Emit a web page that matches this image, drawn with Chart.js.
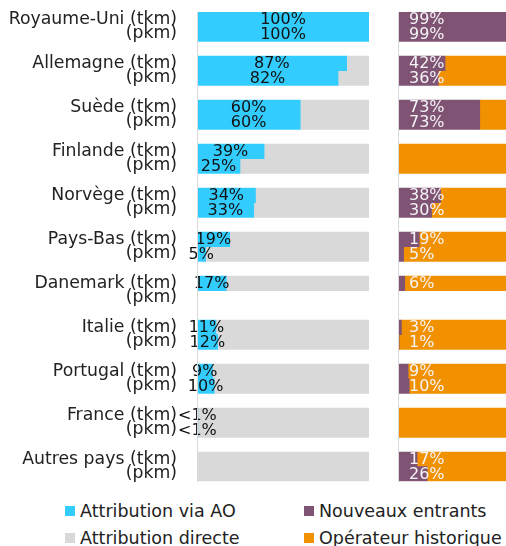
<!DOCTYPE html>
<html>
<head>
<meta charset="utf-8">
<script src="https://cdn.jsdelivr.net/npm/chart.js@4/dist/chart.umd.min.js"></script>
<style>
  body { margin: 0; background: #fff; }
  #wrap { position: relative; width: 506px; height: 546px; overflow: hidden; font-family: "DejaVu Sans", sans-serif; color: #222; }
  canvas { position: absolute; top: 0; }
  #left { left: 0; }
  #right { left: 385px; }
  .legend { position: absolute; font-size: 17.5px; }
  .item { display: flex; align-items: center; height: 26.5px; white-space: nowrap; }
  .box { width: 10px; height: 10px; margin-right: 5px; }
</style>
</head>
<body>
<div id="wrap">
  <canvas id="left" width="380" height="490"></canvas>
  <canvas id="right" width="125" height="490"></canvas>
  <div class="legend" id="legendLeft" style="left:65px; top:498px"></div>
  <div class="legend" id="legendRight" style="left:304px; top:498px"></div>
</div>
<script>
const countries = ['Royaume-Uni', 'Allemagne', 'Suède', 'Finlande', 'Norvège', 'Pays-Bas', 'Danemark', 'Italie', 'Portugal', 'France', 'Autres pays'];

// attribution (left panel), in %
const aoTkm     = [100, 87, 60, 39, 34, 19, 17, 11, 9, 0.5, 0];
const aoPkm     = [100, 82, 60, 25, 33, 5, null, 12, 10, 0.5, 0];
const directTkm = [0, 13, 40, 61, 66, 81, 83, 89, 91, 99.5, 100];
const directPkm = [0, 18, 40, 75, 67, 95, null, 88, 90, 99.5, 100];

// operators (right panel), in %
const newTkm  = [99, 42, 73, 0, 38, 19, 6, 3, 9, 0, 17];
const newPkm  = [99, 36, 73, 0, 30, 5, null, 1, 10, 0, 26];
const histTkm = [1, 58, 27, 100, 62, 81, 94, 97, 91, 100, 83];
const histPkm = [1, 64, 27, 100, 70, 95, null, 99, 90, 100, 74];

const CYAN = '#33ccff', GREY = '#d9d9d9', PURPLE = '#7f5374', ORANGE = '#f29100';

// each country takes three slots: tkm row, pkm row, gap
const rowLabels = [];
countries.forEach((c, i) => {
  rowLabels.push(c + ' (tkm)', '(pkm)');
  if (i < countries.length - 1) rowLabels.push('');
});
function rows(tkm, pkm) {
  const out = [];
  tkm.forEach((v, i) => {
    out.push(v, pkm[i]);
    if (i < tkm.length - 1) out.push(null);
  });
  return out;
}

const barLabels = {
  id: 'barLabels',
  afterDatasetsDraw(chart, args, opts) {
    const ctx = chart.ctx;
    const meta = chart.getDatasetMeta(opts.dataset);
    const values = chart.data.datasets[opts.dataset].data;
    ctx.save();
    ctx.font = '16px "DejaVu Sans"';
    ctx.fillStyle = opts.color;
    ctx.textBaseline = 'middle';
    meta.data.forEach((bar, i) => {
      const v = values[i];
      if (v === null || v === 0) return;
      const text = v < 1 ? '<1%' : v + '%';
      if (opts.align === 'center') {
        ctx.textAlign = 'center';
        ctx.fillText(text, (bar.base + bar.x) / 2, bar.y + 1);
      } else {
        ctx.textAlign = 'left';
        ctx.fillText(text, bar.base + opts.offset, bar.y + 1);
      }
    });
    ctx.restore();
  }
};

function makeChart(id, datasets, showTicks, axisWidth, labelOpts, padRight) {
  return new Chart(document.getElementById(id), {
    type: 'bar',
    data: { labels: rowLabels, datasets: datasets },
    plugins: [barLabels],
    options: {
      indexAxis: 'y',
      responsive: false,
      animation: false,
      layout: { padding: { top: 12, bottom: 8.7, right: padRight } },
      datasets: { bar: { categoryPercentage: 1, barPercentage: 1 } },
      scales: {
        x: { stacked: true, min: 0, max: 100, display: false },
        y: {
          stacked: true,
          grid: { display: false, drawTicks: false },
          border: { display: true, color: GREY, width: 1, z: 1 },
          ticks: {
            display: showTicks,
            autoSkip: false,
            padding: 20,
            color: '#222',
            font: { family: 'DejaVu Sans', size: 17.3 }
          },
          afterFit(scale) {
            scale.width = axisWidth;
            scale.paddingTop = 0;
            scale.paddingBottom = 0;
          }
        }
      },
      plugins: {
        legend: { display: false },
        tooltip: { enabled: false },
        barLabels: labelOpts
      }
    }
  });
}

const leftSets = [
  { label: 'Attribution via AO', data: rows(aoTkm, aoPkm), backgroundColor: CYAN },
  { label: 'Attribution directe', data: rows(directTkm, directPkm), backgroundColor: GREY }
];
const rightSets = [
  { label: 'Nouveaux entrants', data: rows(newTkm, newPkm), backgroundColor: PURPLE },
  { label: 'Opérateur historique', data: rows(histTkm, histPkm), backgroundColor: ORANGE }
];

makeChart('left', leftSets, true, 197, { dataset: 0, color: '#111', align: 'center' }, 11);
makeChart('right', rightSets, false, 13, { dataset: 0, color: '#f4f4f4', align: 'left', offset: 11 }, 0);

function legend(id, sets) {
  const el = document.getElementById(id);
  sets.forEach(s => {
    const item = document.createElement('div');
    item.className = 'item';
    const box = document.createElement('span');
    box.className = 'box';
    box.style.background = s.backgroundColor;
    const txt = document.createElement('span');
    txt.textContent = s.label;
    item.appendChild(box);
    item.appendChild(txt);
    el.appendChild(item);
  });
}
legend('legendLeft', leftSets);
legend('legendRight', rightSets);
</script>
</body>
</html>
